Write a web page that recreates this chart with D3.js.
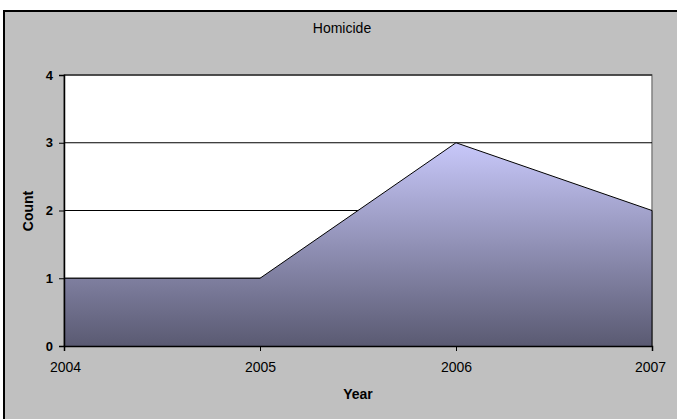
<!DOCTYPE html>
<html>
<head>
<meta charset="utf-8">
<script src="https://d3js.org/d3.v7.min.js"></script>
<style>
  body { margin: 0; background: #fff; }
  text { font-family: "Liberation Sans", Arial, sans-serif; }
</style>
</head>
<body>
<script>
// chart data
var years = [2004, 2005, 2006, 2007];
var counts = [1, 1, 3, 2];
var yTicks = [0, 1, 2, 3, 4];

var W = 677, H = 419;
var plot = {left: 64, right: 652, top: 75, bottom: 346};

var svg = d3.select("body").append("svg")
    .attr("width", W).attr("height", H);

// chart background and frame (only top/left edges show in the crop)
svg.append("rect").attr("x", 0).attr("y", 0).attr("width", W).attr("height", H)
    .attr("fill", "#fff");
svg.append("rect").attr("x", 4).attr("y", 11).attr("width", W).attr("height", H)
    .attr("fill", "#c0c0c0").attr("stroke", "#000").attr("stroke-width", 2);

var x = d3.scalePoint().domain(years).range([plot.left, plot.right]);
var y = d3.scaleLinear().domain([0, 4]).range([plot.bottom, plot.top]);

svg.append("rect")
    .attr("x", plot.left).attr("y", plot.top)
    .attr("width", plot.right - plot.left).attr("height", plot.bottom - plot.top)
    .attr("fill", "#fff").attr("stroke", "#808080").attr("stroke-width", 1.5);

// gridlines
svg.append("g").selectAll("line").data(yTicks.filter(function (d) { return d > 0; }))
  .enter().append("line")
    .attr("x1", plot.left).attr("x2", plot.right)
    .attr("y1", function (d) { return y(d); }).attr("y2", function (d) { return y(d); })
    .attr("stroke", "#000").attr("stroke-width", 1);

var defs = svg.append("defs");
var grad = defs.append("linearGradient").attr("id", "fillGrad")
    .attr("gradientUnits", "userSpaceOnUse")
    .attr("x1", 0).attr("x2", 0)
    .attr("y1", y(d3.max(counts))).attr("y2", y(0));
grad.append("stop").attr("offset", "0%").attr("stop-color", "#c8c8fa");
grad.append("stop").attr("offset", "100%").attr("stop-color", "#5a5a72");

var pts = years.map(function (d, i) { return [d, counts[i]]; });

svg.append("path").datum(pts)
    .attr("fill", "url(#fillGrad)")
    .attr("d", d3.area()
        .x(function (d) { return x(d[0]); })
        .y0(y(0))
        .y1(function (d) { return y(d[1]); }));

svg.append("path").datum(pts)
    .attr("fill", "none").attr("stroke", "#000").attr("stroke-width", 1)
    .attr("d", d3.line()
        .x(function (d) { return x(d[0]); })
        .y(function (d) { return y(d[1]); }));

// right edge of area
svg.append("line")
    .attr("x1", x(2007)).attr("x2", x(2007))
    .attr("y1", y(counts[counts.length - 1])).attr("y2", y(0))
    .attr("stroke", "#000").attr("stroke-width", 1);

// axes
var yAxis = svg.append("g")
    .attr("transform", "translate(" + plot.left + ",0)")
    .call(d3.axisLeft(y).tickValues(yTicks).tickFormat(d3.format("d")).tickSize(5).tickPadding(6));
yAxis.selectAll("text").attr("font-size", 13).attr("font-weight", "bold").attr("fill", "#000")
    .style("font-family", "'Liberation Sans', Arial, sans-serif");

var xAxis = svg.append("g")
    .attr("transform", "translate(0," + plot.bottom + ")")
    .call(d3.axisBottom(x).tickFormat(d3.format("d")).tickSize(5).tickPadding(11));
xAxis.selectAll("text").attr("font-size", 14).attr("fill", "#000")
    .style("font-family", "'Liberation Sans', Arial, sans-serif");
xAxis.selectAll("text").filter(function (d) { return d === 2004; }).attr("dx", 1);
xAxis.selectAll("text").filter(function (d) { return d === 2007; }).attr("dx", -2);
svg.selectAll(".domain").attr("stroke", "#000").attr("stroke-width", 1.5);
svg.selectAll(".tick line").attr("stroke", "#000");

svg.append("text").attr("x", 342).attr("y", 33).attr("text-anchor", "middle")
    .attr("font-size", 14).text("Homicide");

svg.append("text").attr("x", 358).attr("y", 399).attr("text-anchor", "middle")
    .attr("font-size", 14).attr("font-weight", "bold").text("Year");

svg.append("text")
    .attr("transform", "translate(33,211) rotate(-90)")
    .attr("text-anchor", "middle")
    .attr("font-size", 14).attr("font-weight", "bold").text("Count");
</script>
</body>
</html>
